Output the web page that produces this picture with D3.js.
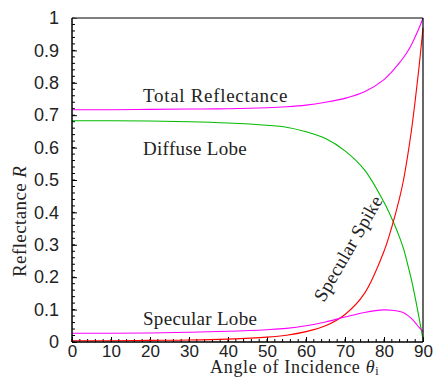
<!doctype html>
<html>
<head>
<style>
  body { margin: 0; background: #fff; }
  svg { display: block; }
</style>
</head>
<body>
    <div class="container"></div>

    <script src="https://d3js.org/d3.v7.min.js"></script>

    <script>
        // angle of incidence (degrees)
        const angles = [0, 10, 20, 30, 40, 50, 55, 60, 65, 70, 75, 80, 82, 84, 85, 86, 87, 88, 89, 90]
        const totalRefl = [0.717, 0.717, 0.718, 0.719, 0.720, 0.723, 0.726, 0.731, 0.740, 0.752, 0.772, 0.810, 0.834, 0.862, 0.878, 0.896, 0.917, 0.942, 0.969, 1.0]
        const diffuseLobe = [0.683, 0.683, 0.682, 0.680, 0.676, 0.669, 0.663, 0.649, 0.628, 0.590, 0.531, 0.431, 0.381, 0.323, 0.288, 0.243, 0.194, 0.137, 0.074, 0.008]
        const specularLobe = [0.027, 0.027, 0.028, 0.030, 0.033, 0.038, 0.042, 0.050, 0.062, 0.077, 0.091, 0.099, 0.098, 0.094, 0.090, 0.083, 0.073, 0.060, 0.045, 0.032]
        const specularSpike = [0.004, 0.004, 0.005, 0.006, 0.009, 0.015, 0.021, 0.032, 0.050, 0.085, 0.150, 0.280, 0.355, 0.445, 0.500, 0.570, 0.650, 0.745, 0.850, 0.970]

        const xTicks = [0, 10, 20, 30, 40, 50, 60, 70, 80, 90]
        const yTicks = [0, 0.1, 0.2, 0.3, 0.4, 0.5, 0.6, 0.7, 0.8, 0.9, 1]

        const W = 436, H = 378
        const mLeft = 72, mRight = 423, mTop = 18, mBottom = 342
        const serif = '"Liberation Serif", "DejaVu Serif", serif'
        const sans = '"Liberation Sans", Arial, sans-serif'

        const svg = d3.select('.container').append('svg').attr('width', W).attr('height', H)

        const x = d3.scaleLinear().domain([0, 90]).range([mLeft, mRight])
        const y = d3.scaleLinear().domain([0, 1]).range([mBottom, mTop])

        // minor ticks (inward)
        const g = svg.append('g')
        g.selectAll('.yminor').data(d3.range(0, 1.0001, 0.02)).enter().append('line')
            .attr('x1', mLeft).attr('x2', mLeft + 3)
            .attr('y1', d => y(d)).attr('y2', d => y(d))
            .attr('stroke', '#000').attr('stroke-width', 1)
        g.selectAll('.xminor').data(d3.range(0, 90.001, 2)).enter().append('line')
            .attr('x1', d => x(d)).attr('x2', d => x(d))
            .attr('y1', mBottom).attr('y2', mBottom - 3)
            .attr('stroke', '#000').attr('stroke-width', 1)

        // major ticks via axes
        const yAxis = d3.axisLeft(y).tickValues(yTicks).tickSize(-5).tickPadding(13)
            .tickFormat(d => d3.format('~g')(d))
        const xAxis = d3.axisBottom(x).tickValues(xTicks).tickSize(-5).tickPadding(3)

        const ya = svg.append('g').attr('transform', `translate(${mLeft},0)`).call(yAxis)
        ya.select('.domain').remove()
        ya.selectAll('text').attr('font-family', sans).attr('font-size', 18).attr('fill', '#222')
        const xa = svg.append('g').attr('transform', `translate(0,${mBottom})`).call(xAxis)
        xa.select('.domain').remove()
        xa.selectAll('text').attr('font-family', sans).attr('font-size', 17).attr('fill', '#222')

        // curves
        const series = [
            { vals: totalRefl, color: '#ff00ff' },
            { vals: diffuseLobe, color: '#00bb00' },
            { vals: specularSpike, color: '#ff0000' },
            { vals: specularLobe, color: '#ff00ff' }
        ]
        const line = d3.line().x(d => x(d[0])).y(d => y(d[1])).curve(d3.curveCatmullRom.alpha(0.5))
        svg.selectAll('.curve').data(series).enter().append('path')
            .attr('d', s => line(angles.map((a, i) => [a, s.vals[i]])))
            .attr('fill', 'none')
            .attr('stroke', s => s.color)
            .attr('stroke-width', 1.1)

        // frame
        svg.append('line').attr('x1', mLeft).attr('x2', mRight).attr('y1', mTop).attr('y2', mTop)
            .attr('stroke', '#555').attr('stroke-width', 1.5)
        svg.append('line').attr('x1', mRight).attr('x2', mRight).attr('y1', mTop).attr('y2', mBottom)
            .attr('stroke', '#000').attr('stroke-width', 1.2)
        svg.append('line').attr('x1', mLeft).attr('x2', mLeft).attr('y1', mTop).attr('y2', mBottom)
            .attr('stroke', '#000').attr('stroke-width', 1.5)
        svg.append('line').attr('x1', mLeft).attr('x2', mRight).attr('y1', mBottom).attr('y2', mBottom)
            .attr('stroke', '#000').attr('stroke-width', 1.5)

        // labels
        const label = (txt, px, py, rot) => svg.append('text')
            .attr('transform', `translate(${px},${py}) rotate(${rot || 0})`)
            .attr('font-family', serif).attr('font-size', 19).attr('fill', '#222')
            .attr('letter-spacing', 0.3)
            .text(txt)
        label('Total Reflectance', 143, 102).attr('letter-spacing', 0.7)
        label('Diffuse Lobe', 143, 155)
        label('Specular Lobe', 143, 325)
        label('Specular Spike', 324, 303, -60)

        const xl = svg.append('text').attr('x', 210).attr('y', 373)
            .attr('font-family', serif).attr('font-size', 18).attr('fill', '#222')
            .attr('letter-spacing', 0.7)
        xl.append('tspan').text('Angle of Incidence ')
        xl.append('tspan').attr('font-style', 'italic').text('θ')
        xl.append('tspan').attr('font-size', 12).attr('dy', 2).text('i')

        const yl = svg.append('text').attr('transform', 'translate(26,277) rotate(-90)')
            .attr('font-family', serif).attr('font-size', 19).attr('fill', '#222')
            .attr('letter-spacing', 0.4)
        yl.append('tspan').text('Reflectance ')
        yl.append('tspan').attr('font-style', 'italic').text('R')
    </script>
</body>
</html>
